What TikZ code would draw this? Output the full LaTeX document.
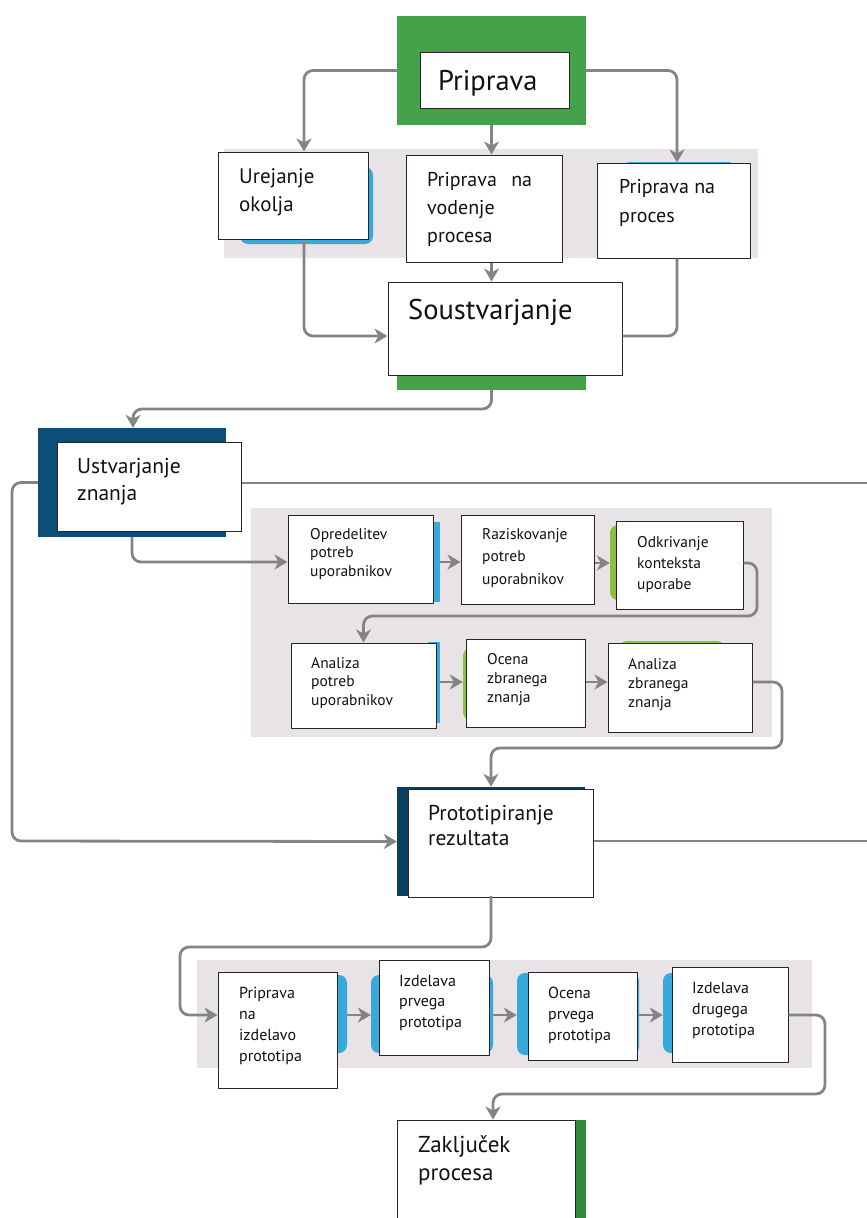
\documentclass[tikz,border=0pt]{standalone}
\usepackage{fontspec}
\setmainfont{PT Sans}
\usetikzlibrary{arrows.meta,fit}
\definecolor{bandgrey}{HTML}{E7E3E7}
\definecolor{prepgreen}{HTML}{46A24A}
\definecolor{darkgreen}{HTML}{2F8A3B}
\definecolor{ustblue}{HTML}{0B4F79}
\definecolor{protoblue}{HTML}{0A3F5F}
\definecolor{lightblue}{HTML}{37AADB}
\definecolor{limegreen}{HTML}{8DBE3D}
\definecolor{linegrey}{HTML}{848484}
\definecolor{textc}{HTML}{111111}
\newcommand\fsz[2]{\fontsize{#1}{#2}\selectfont}
\begin{document}
\begin{tikzpicture}[x=1pt,y=-1pt,
  band/.style={fill=bandgrey, draw=none, inner sep=0pt},
  bg/.style={draw=none, inner sep=0pt},
  rbg/.style={draw=none, inner sep=0pt, rounded corners=8pt},
  box/.style={draw=black!85, line width=1pt, fill=white, inner sep=0pt},
  txt/.style={inner sep=0pt, align=left, text=textc, anchor=north west},
  conn/.style={draw=linegrey, line width=2.8pt, rounded corners=9pt},
  arr/.style={conn, -{Stealth[length=13pt,width=15pt,inset=4pt]}}
]
\useasboundingbox (0,0) rectangle (867,1218);

% ---------- grey bands ----------
\node[band, fit={(224,149) (758,258)}] (band1) {};
\node[band, fit={(251,508) (772,737)}] (band2) {};
\node[band, fit={(197,960) (812,1068)}] (band3) {};

% ---------- top section ----------
\node[bg, fill=prepgreen, fit={(397,16) (586,125)}] (prepbg) {};
\node[box, fit={(420,52) (569,108)}] (prep) {};
\node[txt, font=\fsz{28.5}{34}] (prept) at (438,70) {Priprava};

\node[rbg, fill=lightblue, fit={(240,167) (373,244)}] (urebg) {};
\node[box, fit={(218,152) (368,239)}] (ure) {};
\node[txt, font=\fsz{21}{28}] (uret) at (239,168) {Urejanje\\okolja};

\node[box, fit={(406,155) (562,262)}] (vod) {};
\node[txt, font=\fsz{20}{28}] (vodt) at (427,172) {Priprava\hspace{0.45em} na\\vodenje\\procesa};

\node[rbg, fill=lightblue, fit={(622,162) (736,250)}] (procbg) {};
\node[box, fit={(597,163) (750,258)}] (proc) {};
\node[txt, font=\fsz{20}{29}] (proct) at (619,179) {Priprava na\\proces};

\node[bg, fill=prepgreen, fit={(397,300) (586,390)}] (sousbg) {};
\node[box, fit={(388,282) (622,375)}] (sous) {};
\node[txt, font=\fsz{28.5}{34}] (soust) at (408,299) {Soustvarjanje};

% ---------- knowledge section ----------
\node[bg, fill=ustblue, fit={(38,428) (226,537)}] (ustbg) {};
\node[box, fit={(57,442) (241,531)}] (ust) {};
\node[txt, font=\fsz{21.5}{27}] (ustt) at (77,458) {Ustvarjanje\\znanja};

\node[bg, fill=lightblue, fit={(428,522) (440,602)}] (oprs) {};
\node[box, fit={(288,515) (433,603)}] (opr) {};
\node[txt, font=\fsz{15.5}{18.5}] (oprt) at (310,528) {Opredelitev\\potreb\\uporabnikov};

\node[box, fit={(461,515) (594,604)}] (raz) {};
\node[txt, font=\fsz{15.5}{22.5}] (razt) at (482,528) {Raziskovanje\\potreb\\uporabnikov};

\node[rbg, fill=limegreen, fit={(610,525) (650,600)}] (odkbg) {};
\node[box, fit={(616,521) (743,609)}] (odk) {};
\node[txt, font=\fsz{15.5}{21}] (odkt) at (637,536) {Odkrivanje\\konteksta\\uporabe};

\node[bg, fill=lightblue, fit={(428,642) (440,723)}] (anas) {};
\node[box, fit={(291,643) (436,728)}] (ana) {};
\node[txt, font=\fsz{15.5}{18.5}] (anat) at (311,657) {Analiza\\potreb\\uporabnikov};

\node[rbg, fill=limegreen, fit={(463,648) (500,720)}] (ocebg) {};
\node[box, fit={(466,639) (585,727)}] (oce) {};
\node[txt, font=\fsz{15.5}{19}] (ocet) at (487,653) {Ocena\\zbranega\\znanja};

\node[rbg, fill=limegreen, fit={(619,641) (725,700)}] (azbg) {};
\node[box, fit={(608,643) (752,732)}] (az) {};
\node[txt, font=\fsz{15.5}{19}] (azt) at (628,658) {Analiza\\zbranega\\znanja};

% ---------- prototype section ----------
\node[bg, fill=protoblue, fit={(397,787) (585,896)}] (protobg) {};
\node[box, fit={(408,789) (593,897)}] (proto) {};
\node[txt, font=\fsz{21.5}{25}] (protot) at (428,805) {Prototipiranje\\rezultata};

\node[rbg, fill=lightblue, fit={(320,975) (347,1053)}] (ppbg) {};
\node[box, fit={(218,972) (337,1088)}] (pp) {};
\node[txt, font=\fsz{16}{21}] (ppt) at (239,987) {Priprava\\na\\izdelavo\\prototipa};

\node[rbg, fill=lightblue, fit={(371,975) (493,1053)}] (ip1bg) {};
\node[box, fit={(379,960) (489,1055)}] (ip1) {};
\node[txt, font=\fsz{16}{20.5}] (ip1t) at (399,975) {Izdelava\\prvega\\prototipa};

\node[rbg, fill=lightblue, fit={(517,973) (639,1055)}] (oce2bg) {};
\node[box, fit={(528,972) (637,1060)}] (oce2) {};
\node[txt, font=\fsz{16}{21}] (oce2t) at (548,987) {Ocena\\prvega\\prototipa};

\node[rbg, fill=lightblue, fit={(663,973) (760,1053)}] (id2bg) {};
\node[box, fit={(672,967) (788,1062)}] (id2) {};
\node[txt, font=\fsz{16}{21}] (id2t) at (692,982) {Izdelava\\drugega\\prototipa};

\node[bg, fill=darkgreen, fit={(570,1120) (586,1240)}] (zakbg) {};
\node[box, fit={(397,1120) (575,1240)}] (zak) {};
\node[txt, font=\fsz{23}{28}] (zakt) at (418,1135) {Zaključek\\procesa};

% ---------- free ends at the right edge ----------
\coordinate (re1) at (867,483);
\coordinate (re2) at (867,841);

% ---------- connectors ----------
\draw[arr] (prepbg.west) -| ([xshift=11pt]ure.north);
\draw[arr] (prepbg.east) -| ([xshift=3.5pt]proc.north);
\draw[arr] (prepbg.south) -- (prepbg.south |- vod.north);
\draw[arr] (prepbg.south |- vod.south) -- (prepbg.south |- sous.north);
\draw[arr] ([xshift=11pt]ure.south) |- ([yshift=-7.5pt]sous.west);
\draw[conn] ([xshift=3.5pt]proc.south) |- ([yshift=-7.5pt]sous.east);
\draw[arr] (sousbg.south) |- (133,409) -- (ustbg.north -| 133,0);

\draw[arr] (ustbg.west) -| (12,841) -- (protobg.west);
\draw[conn] (ust.east |- re1) -- (re1);
\draw[conn] (proto.east |- re2) -- (re2);
\draw[arr] (ustbg.south) |- ([yshift=-3pt]opr.west);
\draw[arr] (oprs.east |- 0,562) -- (raz.west |- 0,562);
\draw[arr] (raz.east |- 0,563) -- (odkbg.west |- 0,563);
\draw[arr] (odk.east |- 0,563) -| (757,616) -| (ana.north);
\draw[arr] (anas.east |- 0,682) -- (ocebg.west |- 0,682);
\draw[arr] (oce.east |- 0,682) -- (az.west |- 0,682);
\draw[arr] (az.east |- 0,682) -| (782,748) -| (protobg.north);

\draw[arr] (protobg.south) |- (180,947) |- (pp.west |- 0,1015);
\draw[arr] (ppbg.east |- 0,1015) -- (ip1bg.west |- 0,1015);
\draw[arr] (ip1bg.east |- 0,1015) -- (oce2bg.west |- 0,1015);
\draw[arr] (oce2bg.east |- 0,1015) -- (id2bg.west |- 0,1015);
\draw[arr] (id2.east |- 0,1015) -| (825,1094) -| ([xshift=7pt]zak.north);
\end{tikzpicture}
\end{document}
